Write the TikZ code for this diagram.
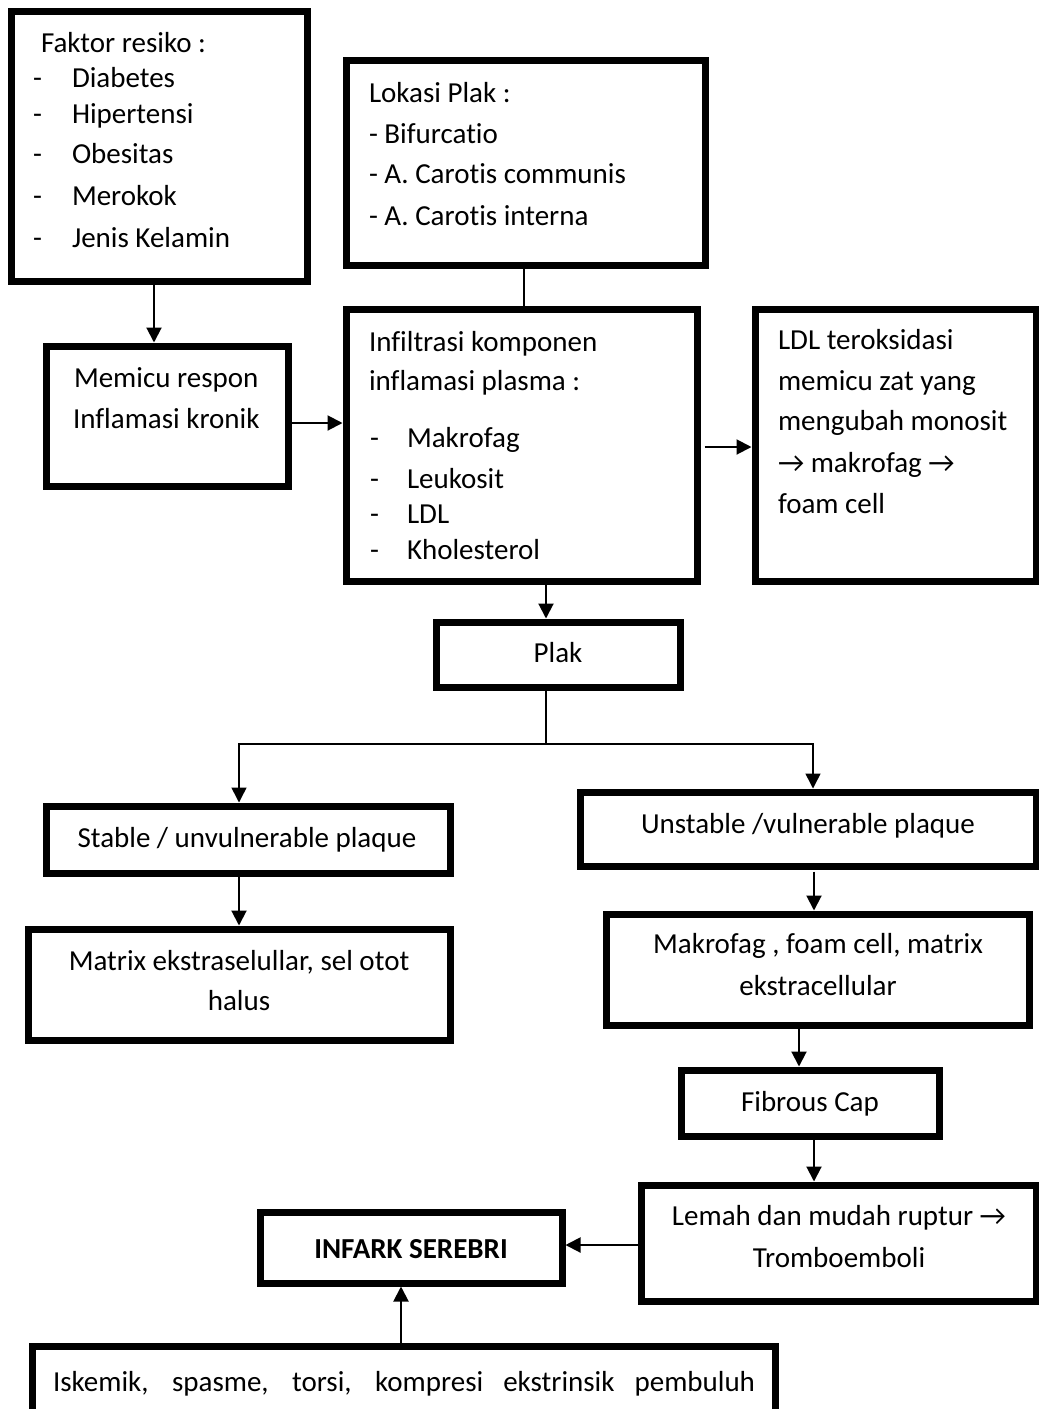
\documentclass[tikz,border=0pt]{standalone}
\usepackage{fontspec}
\setmainfont{Carlito}[Ligatures=NoCommon]
\usetikzlibrary{arrows.meta}
\tikzset{
  box/.style={draw=black, line width=7pt, rectangle, inner sep=0pt, fill=white},
  txt/.style={anchor=base west, inner sep=0pt, outer sep=0pt, font=\fontsize{29}{35}\selectfont},
  ctxt/.style={anchor=base, inner sep=0pt, outer sep=0pt, font=\fontsize{29}{35}\selectfont},
  arr/.style={line width=2pt, -{Triangle[length=15pt,width=15pt]}},
  ln/.style={line width=2pt},
  thin/.style={line width=1.5pt}
}
\begin{document}
\begin{tikzpicture}[x=1pt,y=-1pt]
\clip (0,0) rectangle (1039,1409);
\fill[white] (0,0) rectangle (1039,1409);
% boxes
\node[box, minimum width=296pt, minimum height=270pt] (faktor) at (159,146) {};
\node[box, minimum width=359.5pt, minimum height=205pt] (lokasi) at (525.75,162.5) {};
\node[box, minimum width=242pt, minimum height=140pt] (memicu) at (167,416) {};
\node[box, minimum width=351pt, minimum height=272pt] (infil) at (521.5,445) {};
\node[box, minimum width=281pt, minimum height=272pt] (ldl) at (895.5,445) {};
\node[box, minimum width=244pt, minimum height=65pt] (plak) at (558,654.5) {};
\node[box, minimum width=404pt, minimum height=67pt] (stable) at (248,839.5) {};
\node[box, minimum width=422pt, minimum height=111pt] (matrix) at (239,984.5) {};
\node[box, minimum width=456pt, minimum height=74pt] (unstable) at (808,829) {};
\node[box, minimum width=423pt, minimum height=111pt] (makro) at (817.5,969.5) {};
\node[box, minimum width=258pt, minimum height=66pt] (fibrous) at (810,1103) {};
\node[box, minimum width=395pt, minimum height=116pt] (lemah) at (838.5,1243) {};
\node[box, minimum width=302pt, minimum height=71pt] (infark) at (411,1247.5) {};
\node[box, minimum width=743pt, minimum height=114pt] (bottom) at (403.5,1403) {};

% Faktor resiko
\node[txt] (f0) at (41,52) {Faktor resiko :};
\node[txt] (f1d) at (33,87) {-};   \node[txt] (f1) at (72,87) {Diabetes};
\node[txt] (f2d) at (33,123) {-};  \node[txt] (f2) at (72,123) {Hipertensi};
\node[txt] (f3d) at (33,163) {-};  \node[txt] (f3) at (72,163) {Obesitas};
\node[txt] (f4d) at (33,205) {-};  \node[txt] (f4) at (72,205) {Merokok};
\node[txt] (f5d) at (33,247) {-};  \node[txt] (f5) at (72,247) {Jenis Kelamin};

% Lokasi
\node[txt] (l0) at (369,102) {Lokasi Plak :};
\node[txt] (l1) at (369,143) {- Bifurcatio};
\node[txt] (l2) at (369,183) {- A. Carotis communis};
\node[txt] (l3) at (369,225) {- A. Carotis interna};

% Memicu
\node[txt] (m1) at (74,387) {Memicu respon};
\node[txt] (m2) at (73,428) {Inflamasi kronik};

% Infiltrasi
\node[txt] (i1) at (369,351) {Infiltrasi komponen};
\node[txt] (i2) at (369,390) {inflamasi plasma :};
\node[txt] (i3d) at (370,447) {-}; \node[txt] (i3) at (407,447) {Makrofag};
\node[txt] (i4d) at (370,488) {-}; \node[txt] (i4) at (407,488) {Leukosit};
\node[txt] (i5d) at (370,523) {-}; \node[txt] (i5) at (407,523) {LDL};
\node[txt] (i6d) at (370,559) {-}; \node[txt] (i6) at (407,559) {Kholesterol};

% LDL box
\node[txt] (d1) at (778,349) {LDL teroksidasi};
\node[txt] (d2) at (778,390) {memicu zat yang};
\node[txt] (d3) at (778,430) {mengubah monosit};
\node[txt] (d4) at (778,472) {→ makrofag →};
\node[txt] (d5) at (778,513) {foam cell};

% centered texts
\node[ctxt] (tplak) at (558,662) {Plak};
\node[ctxt] (tstable) at (247,847) {Stable / unvulnerable plaque};
\node[ctxt] (tmat1) at (239,970) {Matrix ekstraselullar, sel otot};
\node[ctxt] (tmat2) at (239,1010) {halus};
\node[ctxt] (tunst) at (808,833) {Unstable /vulnerable plaque};
\node[ctxt] (tmak1) at (818,953) {Makrofag , foam cell, matrix};
\node[ctxt] (tmak2) at (818,995) {ekstracellular};
\node[ctxt] (tfib) at (810,1111) {Fibrous Cap};
\node[ctxt] (tlem1) at (839,1225) {Lemah dan mudah ruptur →};
\node[ctxt] (tlem2) at (839,1267) {Tromboemboli};
\node[ctxt, font=\fontsize{29}{35}\selectfont\bfseries] (tinf) at (411,1258) {INFARK SEREBRI};
\node[ctxt] (tbot) at (404,1391) {\makebox[702pt][s]{Iskemik, spasme, torsi, kompresi ekstrinsik pembuluh}};

% connectors
\draw[arr] ([xshift=-5pt]faktor.south) -- ([xshift=-13pt]memicu.north);
\draw[arr] ([yshift=-7pt]memicu.east) -- ([yshift=22pt]infil.west);
\draw[ln] ([xshift=-1.75pt]lokasi.south) -- ([xshift=2.5pt]infil.north);
\draw[arr] ([xshift=4pt,yshift=-2pt]infil.east) -- ([yshift=-2pt]ldl.west);
\draw[arr] ([xshift=24.5pt]infil.south) -- ([xshift=-12pt]plak.north);
\coordinate (br) at (546,744);
\draw[thin] ([xshift=-12pt]plak.south) -- (br);
\draw[thin, -{Triangle[length=15pt,width=15pt]}] (br) -| ([xshift=-9pt]stable.north);
\draw[thin, -{Triangle[length=15pt,width=15pt]}] (br) -| ([xshift=5pt]unstable.north);
\draw[arr] ([xshift=-9pt]stable.south) -- (matrix.north);
\draw[arr] ([xshift=6pt,yshift=-2pt]unstable.south) -- ([xshift=-3.5pt]makro.north);
\draw[arr] ([xshift=-18.5pt]makro.south) -- ([xshift=-11pt]fibrous.north);
\draw[arr] ([xshift=4pt]fibrous.south) -- ([xshift=-24.5pt]lemah.north);
\draw[arr] ([yshift=-2pt]lemah.west) -- ([yshift=2.5pt]infark.east);
\draw[arr] ([xshift=-2.5pt]bottom.north) -- ([xshift=-10pt]infark.south);
\end{tikzpicture}
\end{document}
